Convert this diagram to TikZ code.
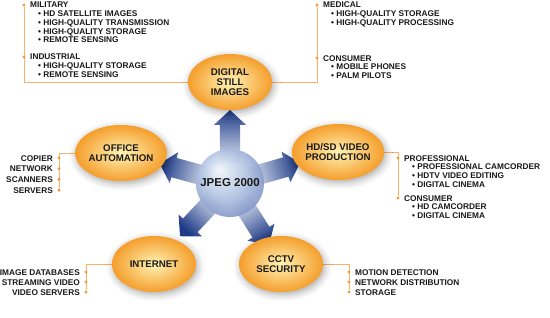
\documentclass[tikz,border=0pt]{standalone}
\usepackage{fontspec}
\setmainfont{Liberation Sans}
\usepackage{xcolor}
\usetikzlibrary{calc,shapes.geometric,shadows.blur,backgrounds}
\definecolor{ellin}{HTML}{FFF3B4}
\definecolor{ellout}{HTML}{F59E2C}
\definecolor{lineorange}{HTML}{F6B46A}
\definecolor{pinorange}{HTML}{F29B38}
\definecolor{jpgdark}{HTML}{1F3B87}
\definecolor{jpgmid}{HTML}{6F86BE}
\definecolor{jpglight}{HTML}{E2E8F3}
\definecolor{sphhi}{HTML}{F2F7FC}
\definecolor{sphlight}{HTML}{D6E2F1}
\definecolor{sphmid}{HTML}{AFC0E0}
\definecolor{sphdark}{HTML}{7D90C4}
\pgfdeclareradialshading{jball}{\pgfpoint{-8bp}{10bp}}{color(0bp)=(sphhi); color(7bp)=(sphlight); color(18bp)=(sphmid); color(32bp)=(sphdark); color(50bp)=(sphdark)}
\tikzset{
  appnode/.style={ellipse,minimum width=84pt,minimum height=56pt,inner sep=0pt,
    inner color=ellin,outer color=ellout,align=center,text=black!90,
    font=\bfseries\fontsize{9.7}{10}\selectfont,
    blur shadow={shadow xshift=1.5pt,shadow yshift=-2.5pt,shadow blur radius=7pt,shadow opacity=35}},
  corenode/.style={circle,minimum size=68pt,inner sep=0pt,shading=jball,fill opacity=0.92,
    text opacity=1,text=black!90,font=\bfseries\fontsize{11.5}{12}\selectfont},
  pinnode/.style={circle,fill=pinorange,minimum size=3.4pt,inner sep=0pt},
  usetext/.style={inner sep=0pt,align=left,text=black!90,font=\bfseries\fontsize{8.3}{8.7}\selectfont},
  feedline/.style={draw=lineorange,line width=0.8pt},
  spoke/.style={top color=jpgdark,middle color=jpgmid,bottom color=jpglight},
}
\newcommand{\itm}{\hspace*{8pt}\textbullet\ }
\newcommand{\jspoke}[1]{%
  \pgfmathanglebetweenpoints{\pgfpointanchor{core}{center}}{\pgfpointanchor{#1}{center}}%
  \pgfmathsetmacro{\spokeang}{\pgfmathresult-90}%
  \shade[spoke,shading angle=\spokeang]
    ($(core)!22.4pt!26.6:(#1)$) -- ($(core)!58.9pt!9.8:(#1)$)
    -- ($(core)!60.3pt!15.4:(#1)$) -- ($(core)!73pt!(#1)$)
    -- ($(core)!60.3pt!-15.4:(#1)$) -- ($(core)!58.9pt!-9.8:(#1)$)
    -- ($(core)!22.4pt!-26.6:(#1)$) -- cycle;}

\begin{document}
\begin{tikzpicture}[x=1pt,y=-1pt]
  \useasboundingbox (0,0) rectangle (550,317);
  % application ellipses
  \node[appnode] (still) at (230,82) {DIGITAL\\STILL\\IMAGES};
  \node[appnode] (video) at (338,152) {HD/SD VIDEO\\PRODUCTION};
  \node[appnode] (office) at (121,153) {OFFICE\\AUTOMATION};
  \node[appnode] (internet) at (154,264) {INTERNET};
  \node[appnode] (cctv) at (281,264) {CCTV\\SECURITY};
  \node[corenode] (core) at (230,183) {JPEG 2000};
  % top left
  \node[pinnode] (pMil) at (24,5) {};
  \node[pinnode] (pInd) at (24,57) {};
  \node[usetext,anchor=north west] (tMil) at (30,2) {MILITARY\\\itm HD SATELLITE IMAGES\\\itm HIGH-QUALITY TRANSMISSION\\\itm HIGH-QUALITY STORAGE\\\itm REMOTE SENSING};
  \node[usetext,anchor=north west] (tInd) at (30,54) {INDUSTRIAL\\\itm HIGH-QUALITY STORAGE\\\itm REMOTE SENSING};
  % top right
  \node[pinnode] (pMed) at (317,5) {};
  \node[pinnode] (pCon) at (317,58) {};
  \node[usetext,anchor=north west] (tMed) at (323,2) {MEDICAL\\\itm HIGH-QUALITY STORAGE\\\itm HIGH-QUALITY PROCESSING};
  \node[usetext,anchor=north west] (tCon) at (323,55) {CONSUMER\\\itm MOBILE PHONES\\\itm PALM PILOTS};
  % video
  \node[pinnode] (pPro) at (398,158) {};
  \node[pinnode] (pVcon) at (398,198) {};
  \node[usetext,anchor=north west] (tPro) at (404,155) {PROFESSIONAL\\\itm PROFESSIONAL CAMCORDER\\\itm HDTV VIDEO EDITING\\\itm DIGITAL CINEMA};
  \node[usetext,anchor=north west] (tVcon) at (404,195) {CONSUMER\\\itm HD CAMCORDER\\\itm DIGITAL CINEMA};
  % office
  \node[pinnode] (pOff1) at (59,158) {};
  \node[pinnode] (pOff2) at (59,168.7) {};
  \node[pinnode] (pOff3) at (59,179.4) {};
  \node[pinnode] (pOff4) at (59,190.1) {};
  \node[usetext,align=right,anchor=north east,font=\bfseries\fontsize{8.3}{10.7}\selectfont] (tOff) at (53,155) {COPIER\\NETWORK\\SCANNERS\\SERVERS};
  % internet
  \node[pinnode] (pNet1) at (86,272) {};
  \node[pinnode] (pNet2) at (86,282) {};
  \node[pinnode] (pNet3) at (86,292) {};
  \node[usetext,align=right,anchor=north east,font=\bfseries\fontsize{8.3}{10}\selectfont] (tNet) at (80,269) {IMAGE DATABASES\\STREAMING VIDEO\\VIDEO SERVERS};
  % cctv
  \node[pinnode] (pCc1) at (349,272) {};
  \node[pinnode] (pCc2) at (349,282) {};
  \node[pinnode] (pCc3) at (349,292) {};
  \node[usetext,anchor=north west,font=\bfseries\fontsize{8.3}{10}\selectfont] (tCc) at (355,269) {MOTION DETECTION\\NETWORK DISTRIBUTION\\STORAGE};
  \begin{scope}[on background layer]
    \jspoke{still}
    \jspoke{video}
    \jspoke{office}
    \jspoke{internet}
    \jspoke{cctv}
    \draw[feedline] (still.west) -| (pMil);
    \draw[feedline] (still.east) -| (pMed);
    \draw[feedline] (video.east) -| (pVcon);
    \draw[feedline] (office.west) -| (pOff4);
    \draw[feedline] (internet.west) -| (pNet3);
    \draw[feedline] (cctv.east) -| (pCc3);
  \end{scope}
\end{tikzpicture}
\end{document}
